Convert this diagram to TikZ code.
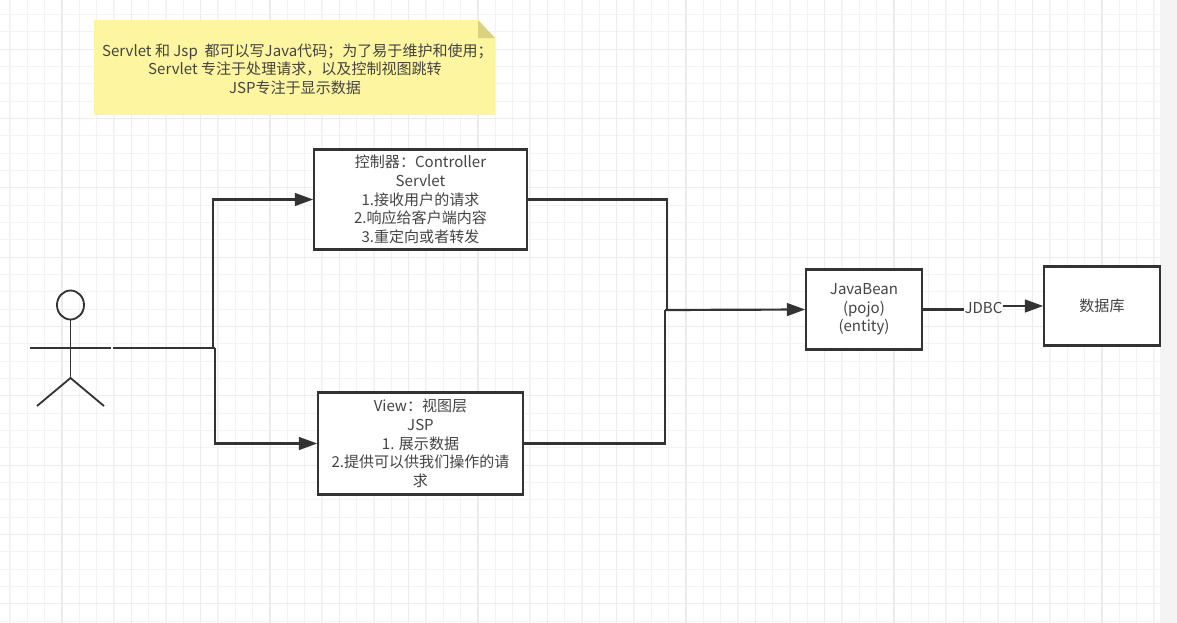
\documentclass[tikz,border=0pt]{standalone}
\usepackage{fontspec}
\setmainfont{Noto Sans CJK SC}
\usepackage{xcolor}
\usetikzlibrary{arrows.meta,positioning,shapes.geometric}
\definecolor{inkgray}{HTML}{333333}
\definecolor{textgray}{HTML}{444444}
\definecolor{gridminor}{HTML}{F3F3F3}
\definecolor{gridmajor}{HTML}{ECECEC}
\definecolor{notefill}{HTML}{FDF5A0}
\definecolor{notefold}{HTML}{DAD27F}
\definecolor{sidepanel}{HTML}{F4F4F4}

\begin{document}
\begin{tikzpicture}[x=0.05cm, y=-0.05cm,
    box/.style={draw=inkgray, line width=2.9pt, fill=white, align=center, text=textgray, inner sep=0pt, font=\fontsize{21.4}{26.6}\selectfont},
    link/.style={draw=inkgray, line width=3.1pt},
    linkarrow/.style={link, -{Triangle[length=26pt, width=18pt]}},
    limb/.style={draw=inkgray, line width=2.6pt},
    label/.style={text=textgray, align=center, inner sep=0pt, font=\fontsize{21.4}{26.6}\selectfont}]
    \useasboundingbox (0, 0) rectangle (1177, 623);
    \fill[white] (0, 0) rectangle (1177, 623);
    % grid
    \foreach \i in {-3, ..., 66} {
        \draw[gridminor, line width=1.5pt] ({62 + 17.333*\i}, 0) -- ({62 + 17.333*\i}, 623);
    }
    \foreach \i in {-2, ..., 33} {
        \draw[gridminor, line width=1.5pt] (0, {49.3 + 17.333*\i}) -- (1160, {49.3 + 17.333*\i});
    }
    \foreach \i in {0, ..., 16} {
        \draw[gridmajor, line width=1.5pt] ({62 + 69.333*\i}, 0) -- ({62 + 69.333*\i}, 623);
    }
    \foreach \i in {0, ..., 8} {
        \draw[gridmajor, line width=1.5pt] (0, {49.3 + 69.333*\i}) -- (1160, {49.3 + 69.333*\i});
    }
    \fill[sidepanel] (1160, 0) rectangle (1177, 623);
    % note
    \fill[notefill] (94, 20) -- (478, 20) -- (495, 38) -- (495, 115) -- (94, 115) -- cycle;
    \fill[notefold] (478, 20) -- (495, 38) -- (478, 38) -- cycle;
    \node[label] (note) at (295, 69) {\hspace*{7pt}Servlet 和 Jsp\ \ 都可以写Java代码；为了易于维护和使用；\\Servlet 专注于处理请求，以及控制视图跳转\\JSP专注于显示数据};
    % boxes
    \node[box, minimum width=212.5*0.05cm, minimum height=100*0.05cm] (controller) at (420.5, 199.5) {控制器：Controller\\Servlet\\1.接收用户的请求\\2.响应给客户端内容\\3.重定向或者转发};
    \node[box, minimum width=204.5*0.05cm, minimum height=102*0.05cm] (view) at (420.5, 443.5) {View：视图层\\JSP\\1. 展示数据\\2.提供可以供我们操作的请\\求};
    \node[box, minimum width=115.5*0.05cm, minimum height=80*0.05cm] (bean) at (864, 309.5) {JavaBean\\(pojo)\\(entity)};
    \node[box, minimum width=115.5*0.05cm, minimum height=79*0.05cm] (db) at (1102, 306) {数据库};
    \node[label] (jdbc) at (983.5, 308) {JDBC};
    % actor
    \node[draw=inkgray, line width=2.6pt, ellipse, minimum width=27*0.05cm, minimum height=29*0.05cm, inner sep=0pt] (head) at (70.5, 305) {};
    \coordinate (hip) at (70.5, 378);
    \coordinate (armleft) at (30, 348);
    \coordinate (armright) at (111, 348);
    \coordinate (legleft) at (37, 406);
    \coordinate (legright) at (104, 406);
    \draw[limb] (head) -- (hip);
    \draw[limb] (armleft) -- (armright);
    \draw[limb] (legleft) -- (hip) -- (legright);
    % connectors
    \coordinate (start) at (113, 348);
    \coordinate (splitup) at (213, 348);
    \coordinate (splitdown) at (215, 348);
    \coordinate (mergeup) at (667, 310);
    \coordinate (mergedown) at (665, 310);
    \draw[link] (start) -- (splitdown);
    \draw[linkarrow] (splitup) |- (controller.west);
    \draw[linkarrow] (splitdown) |- (view.west);
    \draw[link] (controller.east) -| (mergeup);
    \draw[link] (view.east) -| (mergedown);
    \draw[linkarrow] (mergedown) -- (bean.west);
    \draw[link] (bean.east) -- (bean.east -| jdbc.west);
    \draw[linkarrow] (db.west -| jdbc.east) -- (db.west);
\end{tikzpicture}
\end{document}
